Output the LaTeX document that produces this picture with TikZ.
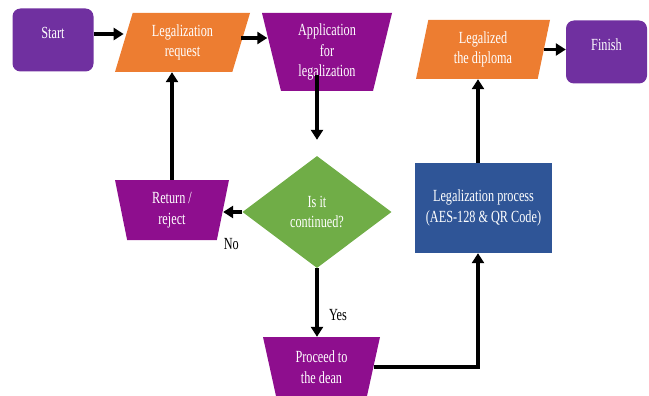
\documentclass[tikz,border=0pt]{standalone}
\usepackage{fontspec}
\setmainfont{Liberation Serif}[FakeStretch=0.72]
\usetikzlibrary{shapes.geometric,arrows.meta}

\definecolor{termpurple}{HTML}{7030A0}
\definecolor{dataorange}{HTML}{ED7D31}
\definecolor{manualmagenta}{HTML}{8E0E8E}
\definecolor{decgreen}{HTML}{70AD47}
\definecolor{procblue}{HTML}{2F5597}

\begin{document}
\begin{tikzpicture}[x=1pt,y=-1pt]
    \tikzset{every node/.style = {font=\fontsize{17}{20.5}\selectfont,align=center}}
    \tikzset{terminal/.style = {shape=rectangle,rounded corners=8pt,fill=termpurple,text=white,text depth=14pt,minimum width=81pt,minimum height=63pt}}
    \tikzset{data/.style = {trapezium,trapezium stretches body,fill=dataorange,text=white,inner sep=1pt,minimum height=59pt}}
    \tikzset{manual/.style = {trapezium,trapezium stretches body,fill=manualmagenta,text=white,inner sep=1pt}}
    \tikzset{decision/.style = {diamond,fill=decgreen,text=white,inner sep=0pt,minimum width=149pt,minimum height=112pt}}
    \tikzset{process/.style = {rectangle,fill=procblue,text=white,minimum width=137pt,minimum height=90pt}}
    \tikzset{edge/.style = {-{Triangle[length=10pt,width=12pt]},line width=3.5pt}}
    \path[use as bounding box,clip] (0,0) rectangle (649,396);
    % vertices
    \node[terminal] (start) at (53,40) {Start};
    \node[data,minimum width=135pt,trapezium left angle=65,trapezium right angle=115] (lreq) at (182.5,42.5) {Legalization\\request};
    \node[manual,minimum width=130pt,minimum height=78pt,trapezium angle=108] (app) at (327,52) {Application\\for\\legalization};
    \node[decision] (dia) at (317,212) {Is it\\continued?};
    \node[manual,minimum width=114pt,minimum height=60pt,trapezium angle=108] (ret) at (172,210) {Return /\\reject};
    \node[manual,minimum width=117pt,minimum height=60pt,trapezium angle=111] (proc) at (321.5,367) {Proceed to\\the dean};
    \node[process] (lproc) at (483.5,208) {Legalization process\\(AES-128 \& QR Code)};
    \node[data,minimum width=134pt,trapezium left angle=72,trapezium right angle=108] (ldip) at (483,49.5) {Legalized\\the diploma};
    \node[terminal] (fin) at (606.5,52) {Finish};
    \node (no) at ([xshift=-11pt,yshift=-32pt]dia.west) {No};
    \node (yes) at ([xshift=21pt,yshift=-47pt]dia.south) {Yes};
    % helpers
    \coordinate (a1) at (dia.north |- app.center);
    \coordinate (b1) at ([xshift=-5.5pt]lproc.south);
    \coordinate (b2) at ([xshift=-5.5pt]lproc.north);
    %edges
    \draw[edge] ([yshift=6pt]start.east) -- ([yshift=6pt]start.east -| lreq.west);
    \draw[edge,shorten >=4pt] ([yshift=4.5pt]lreq.east) -- ([yshift=4.5pt]lreq.east -| app.west);
    \draw[edge] ([yshift=-23pt]a1) -- ([yshift=16pt]dia.north);
    \draw[edge] (dia.west) -- (dia.west -| ret.east);
    \draw[edge] (ret.north) -- (ret.north |- lreq.south);
    \draw[edge] (dia.south) -- (dia.south |- proc.north);
    \draw[edge] (proc.east) -| (b1);
    \draw[edge] (b2) -- (b2 |- ldip.south);
    \draw[edge] (ldip.east) -- (ldip.east -| fin.west);
\end{tikzpicture}
\end{document}
